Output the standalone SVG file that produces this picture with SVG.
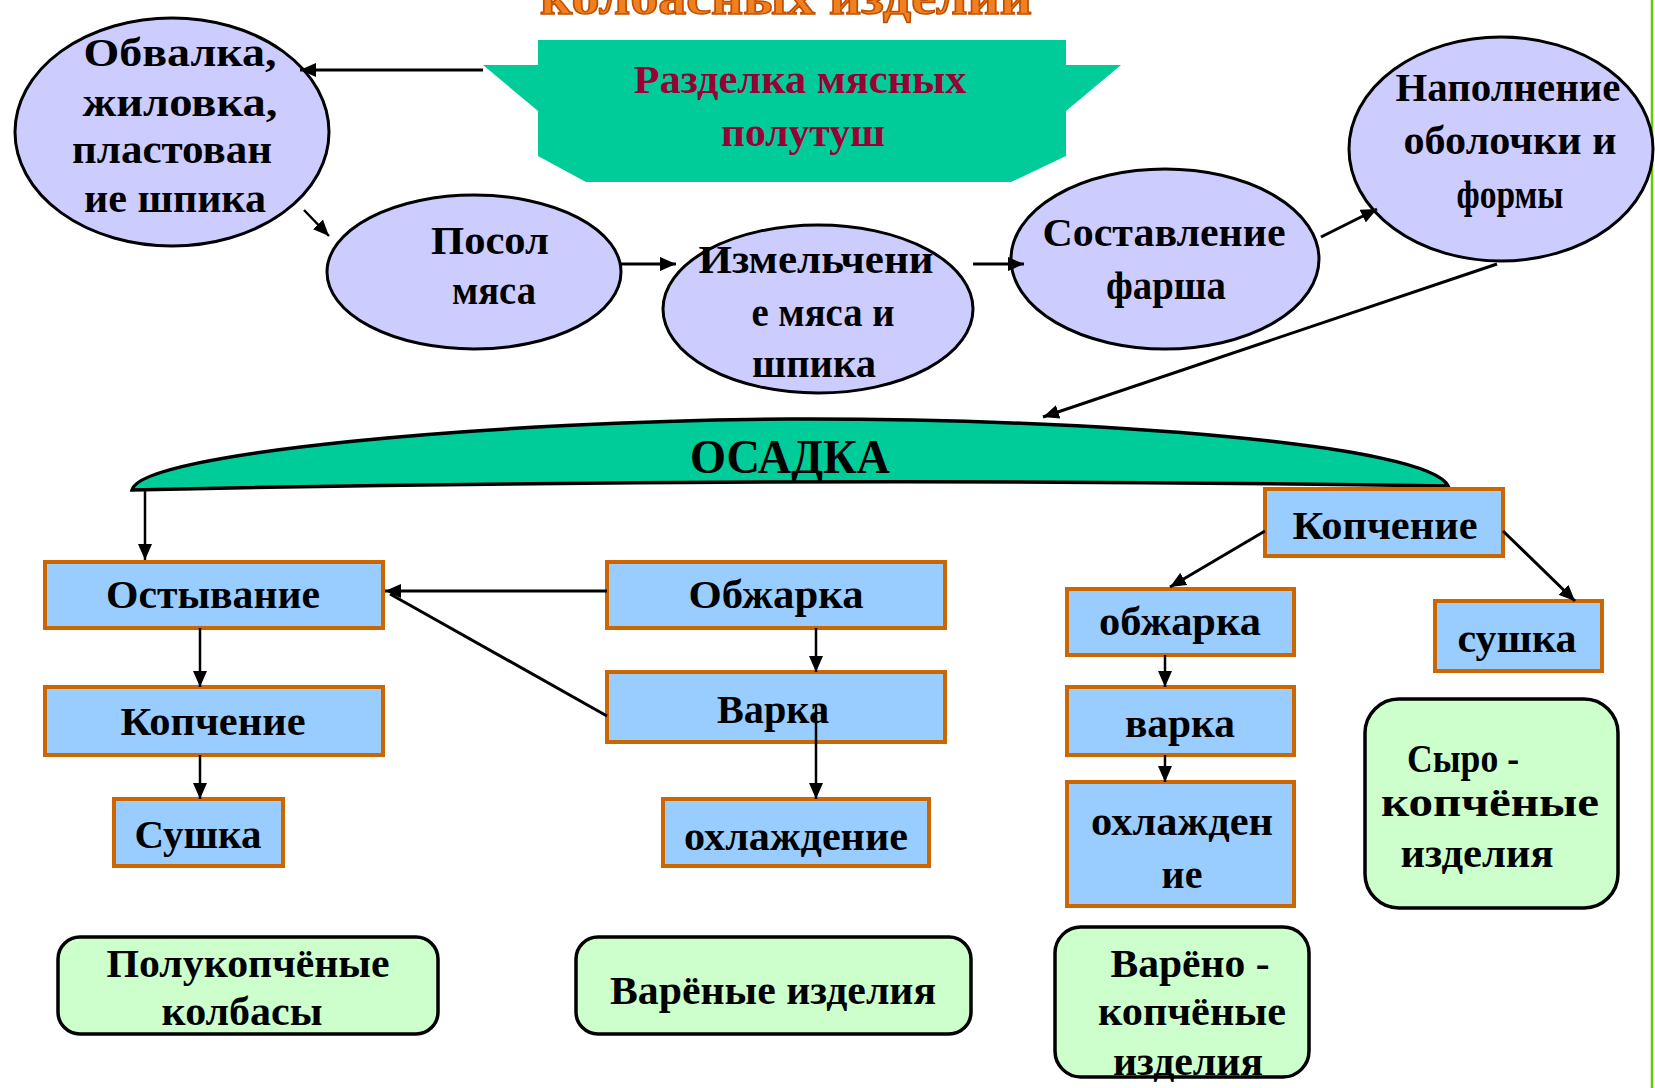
<svg xmlns="http://www.w3.org/2000/svg" width="1655" height="1088" viewBox="0 0 1655 1088">
<defs>
<style>
.t{font-family:"Liberation Serif","Times New Roman",serif;font-weight:bold;font-size:40px;fill:#000;text-anchor:middle}
.ell{fill:#CCCCFF;stroke:#000;stroke-width:3}
.box{fill:#99CCFF;stroke:#CC6600;stroke-width:4}
.res{fill:#CCFFCC;stroke:#000;stroke-width:3.5}
.c{stroke:#000;stroke-width:3;fill:none}
.c2{stroke:#000;stroke-width:2.5;fill:none}
</style>
<marker id="ah" markerUnits="userSpaceOnUse" markerWidth="18" markerHeight="14" refX="16" refY="7" orient="auto">
<path d="M0,0 L16,7 L0,14 Z" fill="#000"/>
</marker>
</defs>
<rect width="1655" height="1088" fill="#fff"/>
<line x1="1652" y1="0" x2="1652" y2="1088" stroke="#66CC00" stroke-width="2.5"/>
<text x="786" y="14" font-family="Liberation Serif, serif" font-weight="bold" font-size="48" fill="#F08020" stroke="#C05000" stroke-width="1.5" text-anchor="middle" textLength="492" lengthAdjust="spacingAndGlyphs">колбасных изделий</text>

<g id="razdelka">
<polygon points="483,65 538,65 538,40 1066,40 1066,65 1121,65 1066,111 1066,156 1011,182 586,182 538,156 538,111" fill="#00CC99"/>
<text class="t" x="800" y="93" style="fill:#990033" textLength="333" lengthAdjust="spacingAndGlyphs">Разделка мясных</text>
<text class="t" x="803" y="146" style="fill:#990033" textLength="164" lengthAdjust="spacingAndGlyphs">полутуш</text>
</g>

<g id="obvalka">
<ellipse class="ell" cx="172" cy="132" rx="157" ry="114"/>
<text class="t" x="180" y="66" textLength="193" lengthAdjust="spacingAndGlyphs">Обвалка,</text>
<text class="t" x="180" y="116" textLength="195" lengthAdjust="spacingAndGlyphs">жиловка,</text>
<text class="t" x="172" y="163" textLength="200" lengthAdjust="spacingAndGlyphs">пластован</text>
<text class="t" x="175" y="212" textLength="182" lengthAdjust="spacingAndGlyphs">ие шпика</text>
</g>

<g id="posol">
<ellipse class="ell" cx="474" cy="272" rx="147" ry="77"/>
<text class="t" x="490" y="254" textLength="118" lengthAdjust="spacingAndGlyphs">Посол</text>
<text class="t" x="494" y="304" textLength="84" lengthAdjust="spacingAndGlyphs">мяса</text>
</g>

<g id="izmelchenie">
<ellipse class="ell" cx="818" cy="309" rx="155" ry="84"/>
<text class="t" x="816" y="273" textLength="235" lengthAdjust="spacingAndGlyphs">Измельчени</text>
<text class="t" x="823" y="326" textLength="143" lengthAdjust="spacingAndGlyphs">е мяса и</text>
<text class="t" x="814" y="377" textLength="124" lengthAdjust="spacingAndGlyphs">шпика</text>
</g>

<g id="sostavlenie">
<ellipse class="ell" cx="1165" cy="259" rx="154" ry="90"/>
<text class="t" x="1164" y="246" textLength="243" lengthAdjust="spacingAndGlyphs">Составление</text>
<text class="t" x="1166" y="299" textLength="120" lengthAdjust="spacingAndGlyphs">фарша</text>
</g>

<g id="napolnenie">
<ellipse class="ell" cx="1501" cy="149" rx="152" ry="112"/>
<text class="t" x="1508" y="101" textLength="225" lengthAdjust="spacingAndGlyphs">Наполнение</text>
<text class="t" x="1510" y="154" textLength="213" lengthAdjust="spacingAndGlyphs">оболочки и</text>
<text class="t" x="1510" y="208" textLength="107" lengthAdjust="spacingAndGlyphs">формы</text>
</g>

<g id="osadka">
<path d="M132,490 C140,452 500,421 790,419 C1100,418 1430,445 1448,486 Q790,476 132,490 Z" fill="#00CC99" stroke="#000" stroke-width="3.5"/>
<text class="t" x="790" y="473" style="font-size:48px" textLength="200" lengthAdjust="spacingAndGlyphs">ОСАДКА</text>
</g>

<g id="ostyvanie"><rect class="box" x="45" y="562" width="338" height="66"/><text class="t" x="213" y="608" textLength="214" lengthAdjust="spacingAndGlyphs">Остывание</text></g>
<g id="kopchenie-l"><rect class="box" x="45" y="687" width="338" height="68"/><text class="t" x="213" y="735" textLength="185" lengthAdjust="spacingAndGlyphs">Копчение</text></g>
<g id="sushka-l"><rect class="box" x="114" y="799" width="169" height="67"/><text class="t" x="198" y="848" textLength="127" lengthAdjust="spacingAndGlyphs">Сушка</text></g>
<g id="obzharka-m"><rect class="box" x="607" y="562" width="338" height="66"/><text class="t" x="776" y="608" textLength="175" lengthAdjust="spacingAndGlyphs">Обжарка</text></g>
<g id="varka-m"><rect class="box" x="607" y="672" width="338" height="70"/><text class="t" x="773" y="723" textLength="112" lengthAdjust="spacingAndGlyphs">Варка</text></g>
<g id="ohlazhdenie-m"><rect class="box" x="663" y="799" width="266" height="67"/><text class="t" x="796" y="850" textLength="224" lengthAdjust="spacingAndGlyphs">охлаждение</text></g>
<g id="kopchenie-r"><rect class="box" x="1265" y="489" width="238" height="67"/><text class="t" x="1385" y="539" textLength="185" lengthAdjust="spacingAndGlyphs">Копчение</text></g>
<g id="obzharka-r"><rect class="box" x="1067" y="589" width="227" height="66"/><text class="t" x="1180" y="635" textLength="162" lengthAdjust="spacingAndGlyphs">обжарка</text></g>
<g id="varka-r"><rect class="box" x="1067" y="687" width="227" height="68"/><text class="t" x="1180" y="737" textLength="110" lengthAdjust="spacingAndGlyphs">варка</text></g>
<g id="ohlazhdenie-r"><rect class="box" x="1067" y="782" width="227" height="124"/><text class="t" x="1182" y="835" textLength="182" lengthAdjust="spacingAndGlyphs">охлажден</text><text class="t" x="1182" y="888">ие</text></g>
<g id="sushka-r"><rect class="box" x="1435" y="601" width="167" height="70"/><text class="t" x="1517" y="652" textLength="119" lengthAdjust="spacingAndGlyphs">сушка</text></g>

<g id="polukopchenye"><rect class="res" x="58" y="937" width="380" height="97" rx="22"/><text class="t" x="248" y="977" textLength="283" lengthAdjust="spacingAndGlyphs">Полукопчёные</text><text class="t" x="242" y="1025" textLength="161" lengthAdjust="spacingAndGlyphs">колбасы</text></g>
<g id="varenye"><rect class="res" x="576" y="937" width="395" height="97" rx="22"/><text class="t" x="773" y="1004" textLength="326" lengthAdjust="spacingAndGlyphs">Варёные изделия</text></g>
<g id="vareno-kopchenye"><rect class="res" x="1055" y="927" width="254" height="150" rx="26"/><text class="t" x="1190" y="977" textLength="159" lengthAdjust="spacingAndGlyphs">Варёно -</text><text class="t" x="1192" y="1025" textLength="188" lengthAdjust="spacingAndGlyphs">копчёные</text><text class="t" x="1188" y="1075" textLength="150" lengthAdjust="spacingAndGlyphs">изделия</text></g>
<g id="syro-kopchenye"><rect class="res" x="1365" y="699" width="253" height="209" rx="34"/><text class="t" x="1463" y="772" textLength="112" lengthAdjust="spacingAndGlyphs">Сыро -</text><text class="t" x="1490" y="816" textLength="218" lengthAdjust="spacingAndGlyphs">копчёные</text><text class="t" x="1477" y="867" textLength="153" lengthAdjust="spacingAndGlyphs">изделия</text></g>

<g id="connectors">
<line class="c" x1="483" y1="70" x2="300" y2="70" marker-end="url(#ah)"/>
<line class="c2" x1="304" y1="210" x2="329" y2="236" marker-end="url(#ah)"/>
<line class="c" x1="621" y1="264" x2="676" y2="264" marker-end="url(#ah)"/>
<line class="c" x1="973" y1="264" x2="1024" y2="264" marker-end="url(#ah)"/>
<line class="c" x1="1321" y1="237" x2="1377" y2="209" marker-end="url(#ah)"/>
<line class="c" x1="1497" y1="264" x2="1043" y2="417" marker-end="url(#ah)"/>
<line class="c2" x1="145" y1="488" x2="145" y2="560" marker-end="url(#ah)"/>
<line class="c2" x1="200" y1="628" x2="200" y2="687" marker-end="url(#ah)"/>
<line class="c2" x1="200" y1="755" x2="200" y2="799" marker-end="url(#ah)"/>
<line class="c" x1="607" y1="591" x2="385" y2="591" marker-end="url(#ah)"/>
<line class="c" x1="607" y1="716" x2="390" y2="594"/>
<line class="c2" x1="816" y1="628" x2="816" y2="672" marker-end="url(#ah)"/>
<line class="c2" x1="816" y1="705" x2="816" y2="799" marker-end="url(#ah)"/>
<line class="c" x1="1265" y1="531" x2="1170" y2="587" marker-end="url(#ah)"/>
<line class="c" x1="1503" y1="531" x2="1575" y2="601" marker-end="url(#ah)"/>
<line class="c2" x1="1165" y1="655" x2="1165" y2="687" marker-end="url(#ah)"/>
<line class="c2" x1="1165" y1="755" x2="1165" y2="782" marker-end="url(#ah)"/>
</g>
</svg>
